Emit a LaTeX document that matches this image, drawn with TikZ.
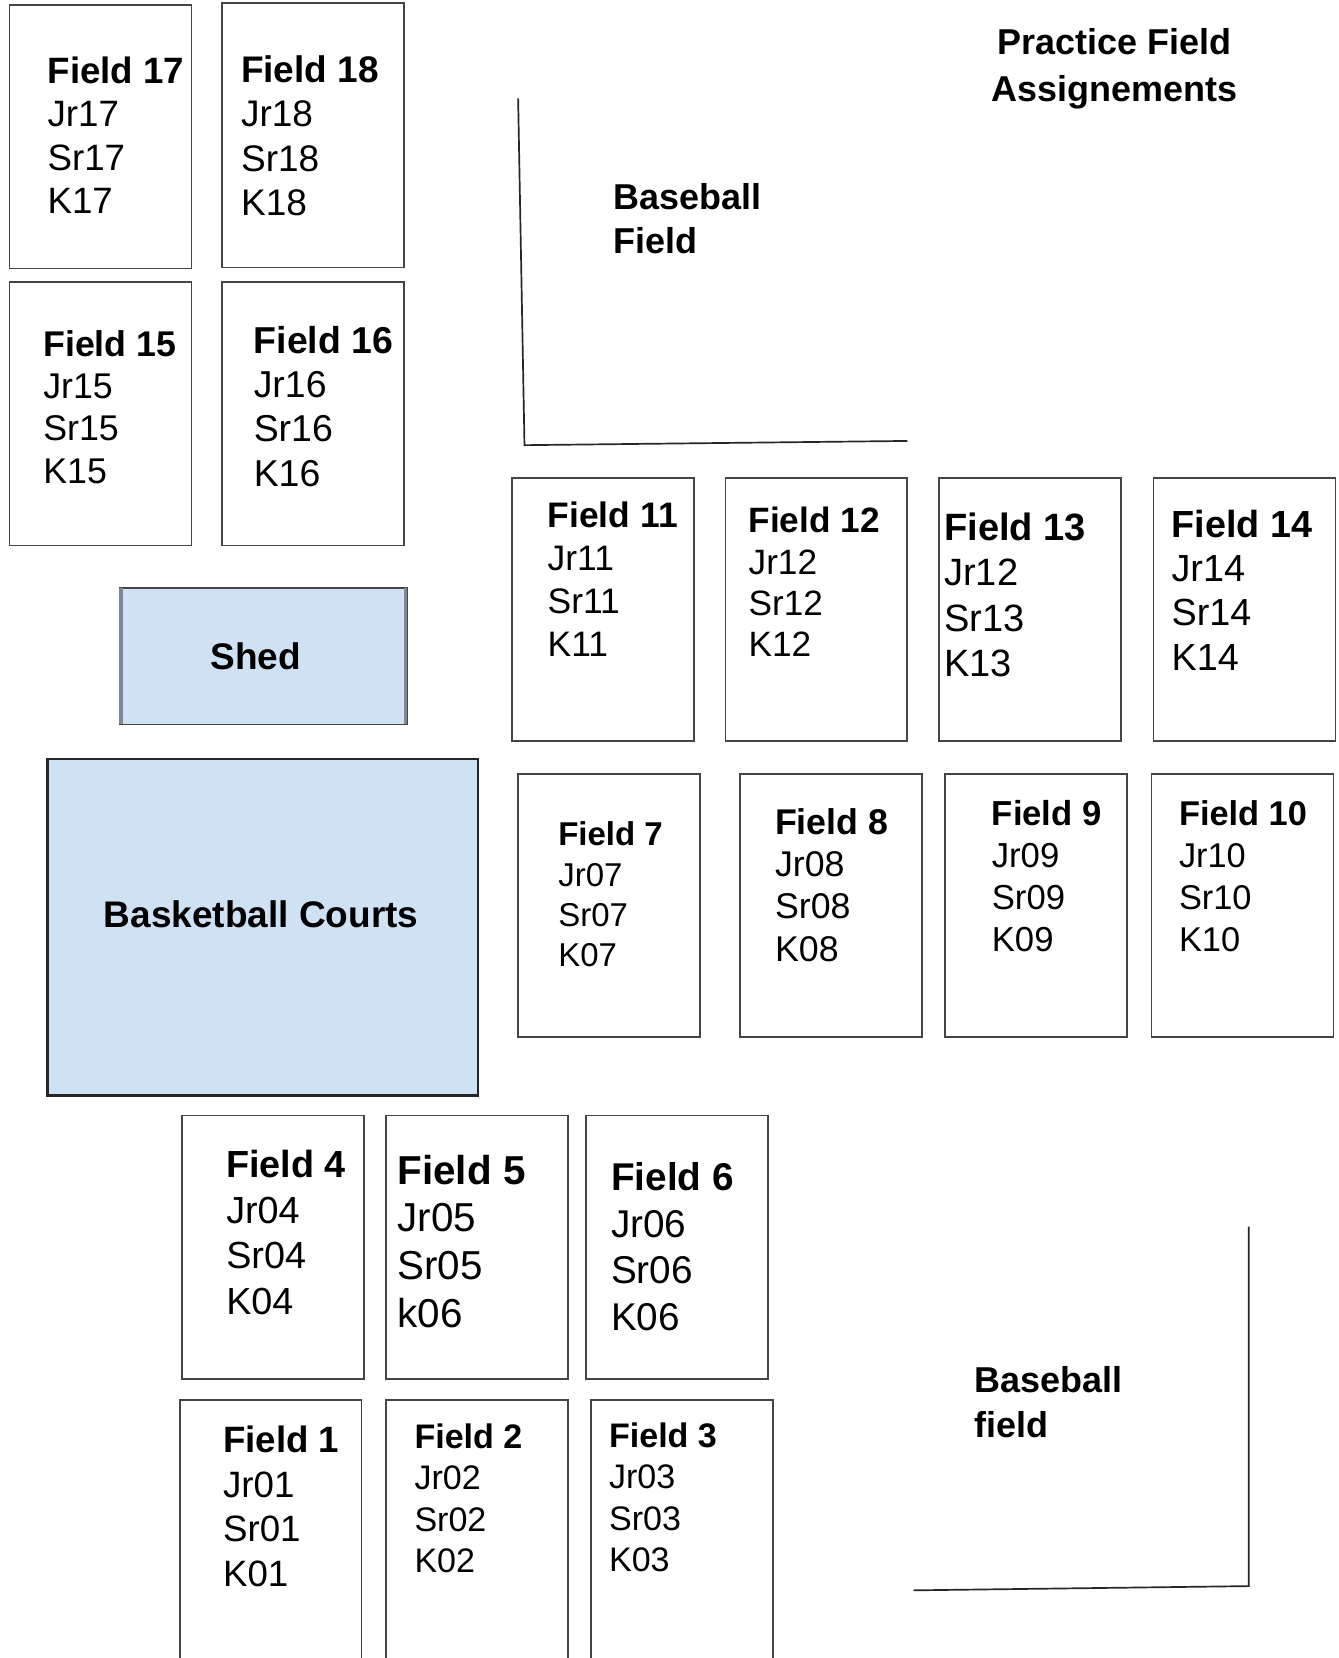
\documentclass[tikz,border=0pt]{standalone}
\usepackage{fontspec}
\setmainfont{Liberation Sans}
\definecolor{lblue}{HTML}{CFE2F3}
\definecolor{boxline}{HTML}{454545}
\definecolor{shedside}{HTML}{7E8892}
\tikzset{
  fieldframe/.style={draw=boxline, line width=1.6pt},
  lbl/.style={anchor=base west, inner sep=0pt, outer sep=0pt},
  heading/.style={anchor=base west, inner sep=0pt, outer sep=0pt, font=\fontsize{34}{40}\selectfont\bfseries},
  fenceline/.style={draw=black!85, line width=1.6pt},
}
\newcommand\fieldtext[9]{%
  \node[lbl,font=\fontsize{#5}{#5}\selectfont\bfseries] (#1-t) at (#2,#3) {#6};
  \node[lbl,font=\fontsize{#5}{#5}\selectfont] (#1-a) at (#2,{#3+#4}) {#7};
  \node[lbl,font=\fontsize{#5}{#5}\selectfont] (#1-b) at (#2,{#3+2*#4}) {#8};
  \node[lbl,font=\fontsize{#5}{#5}\selectfont] (#1-c) at (#2,{#3+3*#4}) {#9};
}
\begin{document}
\begin{tikzpicture}[x=1pt,y=-1pt]
\useasboundingbox[fill=white] (0,0) rectangle (1266,1568);

% title
\node[heading, anchor=base] (title1) at (1054,52) {Practice Field};
\node[heading, anchor=base] (title2) at (1054,96) {Assignements};

% baseball field (top)
\coordinate (bt1) at (490,93);
\coordinate (bt2) at (496,421);
\coordinate (bt3) at (858,417);
\draw[fenceline] (bt1) -- (bt2) -- (bt3);
\node[heading] (bb1a) at (580,198) {Baseball};
\node[heading] (bb1b) at (580,240) {Field};

% baseball field (bottom)
\coordinate (bb1) at (1181,1160);
\coordinate (bb2) at (1181,1500);
\coordinate (bb3) at (864,1504);
\draw[fenceline] (bb1) -- (bb2) -- (bb3);
\node[heading] (bb2a) at (922,1317) {Baseball};
\node[heading] (bb2b) at (922,1359) {field};

% shed
\path[fill=lblue, draw=boxline, line width=1.4pt] (113,556) rectangle (385,685);
\draw[shedside, line width=3pt] (114.5,556) -- (114.5,685);
\draw[shedside, line width=3pt] (383.5,556) -- (383.5,685);
\node[font=\fontsize{35}{40}\selectfont\bfseries] (shed) at (242,621) {Shed};

% basketball courts
\path[fill=lblue, draw=black!85, line width=2.2pt] (45,718) rectangle (452,1036);
\node[font=\fontsize{35}{40}\selectfont\bfseries] (courts) at (247,865) {Basketball Courts};

% field boxes
\path[fieldframe] (9,5) rectangle (181,254);
\path[fieldframe] (210,3) rectangle (382,253);
\path[fieldframe] (9,267) rectangle (181,516);
\path[fieldframe] (210,267) rectangle (382,516);

\path[fieldframe] (484,452) rectangle (656,701);
\path[fieldframe] (686,452) rectangle (858,701);
\path[fieldframe] (888,452) rectangle (1060,701);
\path[fieldframe] (1091,452) rectangle (1263,701);

\path[fieldframe] (490,732) rectangle (662,981);
\path[fieldframe] (700,732) rectangle (872,981);
\path[fieldframe] (894,732) rectangle (1066,981);
\path[fieldframe] (1089,732) rectangle (1261,981);

\path[fieldframe] (172,1055) rectangle (344,1304);
\path[fieldframe] (365,1055) rectangle (537,1304);
\path[fieldframe] (554,1055) rectangle (726,1304);

\path[fieldframe] (170,1568) -- (170,1324) -- (342,1324) -- (342,1568);
\path[fieldframe] (365,1568) -- (365,1324) -- (537,1324) -- (537,1568);
\path[fieldframe] (559,1568) -- (559,1324) -- (731,1324) -- (731,1568);

% field texts
\fieldtext{f17}{45}{79}{41}{34.7}{Field 17}{Jr17}{Sr17}{K17}
\fieldtext{f18}{228}{78}{42}{35}{Field 18}{Jr18}{Sr18}{K18}
\fieldtext{f15}{41}{337}{40}{33.8}{Field 15}{Jr15}{Sr15}{K15}
\fieldtext{f16}{240}{334}{42}{35.4}{Field 16}{Jr16}{Sr16}{K16}

\fieldtext{f11}{518}{499}{40.5}{33.5}{Field 11}{Jr11}{Sr11}{K11}
\fieldtext{f12}{708}{504}{39}{33.3}{Field 12}{Jr12}{Sr12}{K12}
\fieldtext{f13}{893}{511}{43}{36}{Field 13}{Jr12}{Sr13}{K13}
\fieldtext{f14}{1108}{508}{42}{35.7}{Field 14}{Jr14}{Sr14}{K14}

\fieldtext{f7}{528}{800}{38}{31.2}{Field 7}{Jr07}{Sr07}{K07}
\fieldtext{f8}{733}{789}{40}{33.8}{Field 8}{Jr08}{Sr08}{K08}
\fieldtext{f9}{938}{781}{39.5}{32.8}{Field 9}{Jr09}{Sr09}{K09}
\fieldtext{f10}{1115}{781}{39.5}{32.5}{Field 10}{Jr10}{Sr10}{K10}

\fieldtext{f4}{214}{1114}{43}{35.7}{Field 4}{Jr04}{Sr04}{K04}
\fieldtext{f5}{376}{1120}{45}{38.2}{Field 5}{Jr05}{Sr05}{k06}
\fieldtext{f6}{578}{1126}{44}{36.6}{Field 6}{Jr06}{Sr06}{K06}

\fieldtext{f1}{211}{1374}{42}{34.7}{Field 1}{Jr01}{Sr01}{K01}
\fieldtext{f2}{392}{1370}{39}{32.2}{Field 2}{Jr02}{Sr02}{K02}
\fieldtext{f3}{576}{1369}{39}{32.2}{Field 3}{Jr03}{Sr03}{K03}
\end{tikzpicture}
\end{document}
